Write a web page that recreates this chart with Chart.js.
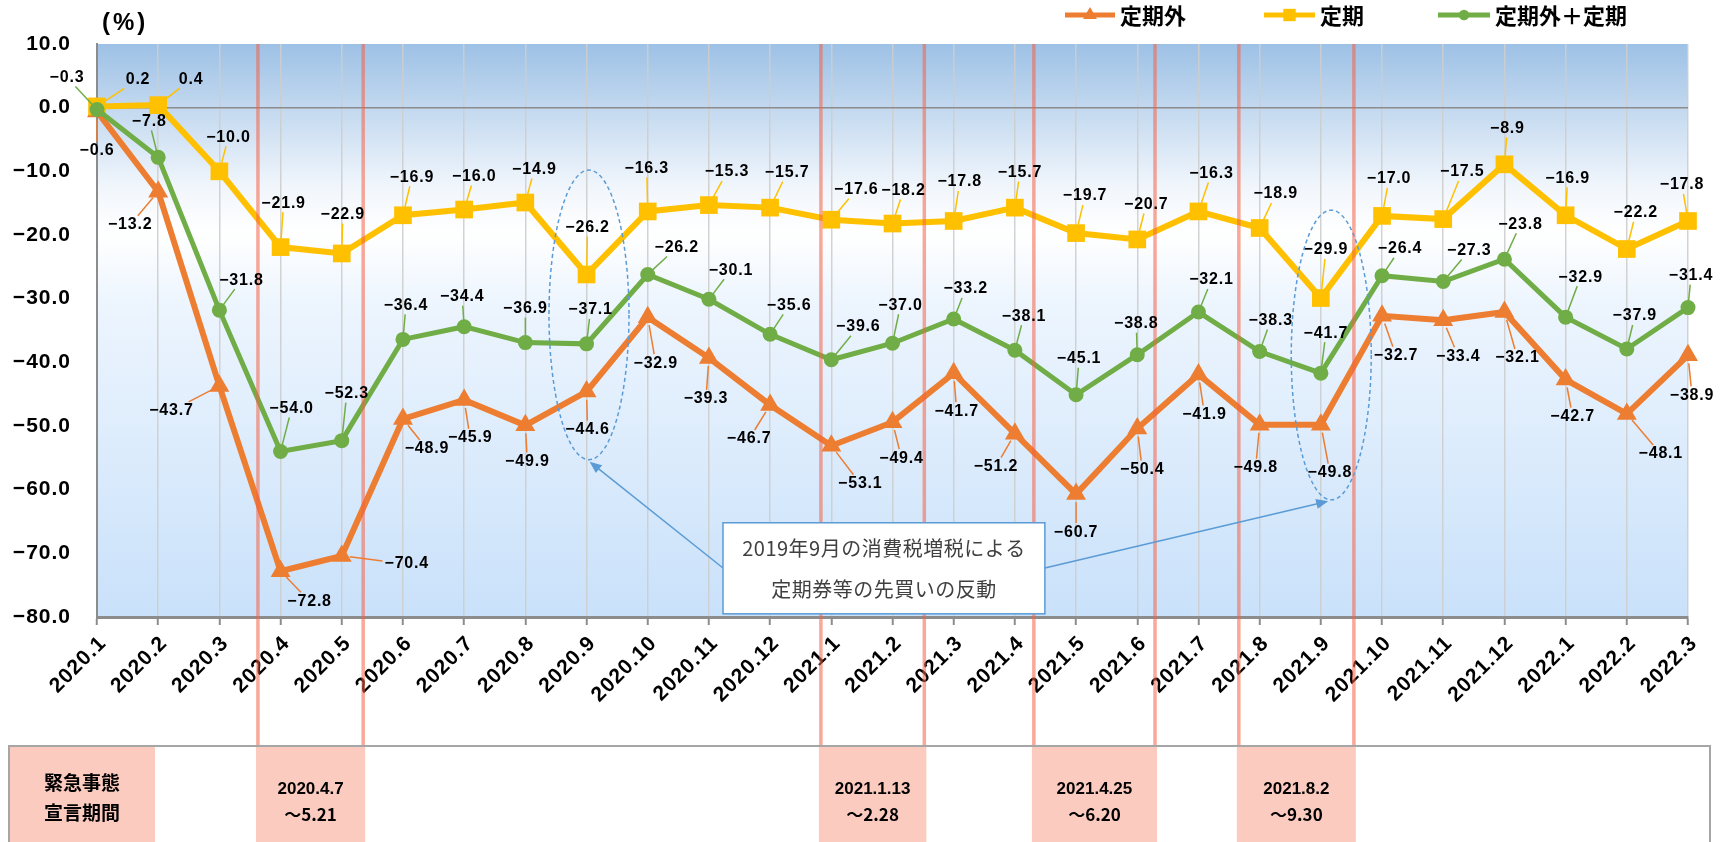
<!DOCTYPE html>
<html>
<head>
<meta charset="utf-8">
<script src="https://cdn.jsdelivr.net/npm/chart.js@4.4.1/dist/chart.umd.min.js"></script>
<style>
  html, body { margin: 0; padding: 0; background: #fff; }
  #wrap { position: relative; width: 1728px; height: 842px; }
</style>
</head>
<body>
<div id="wrap"><canvas id="chart"></canvas></div>
<script>
// months on the x axis
const months = [
  '2020.1', '2020.2', '2020.3', '2020.4', '2020.5', '2020.6', '2020.7', '2020.8', '2020.9',
  '2020.10', '2020.11', '2020.12', '2021.1', '2021.2', '2021.3', '2021.4', '2021.5', '2021.6',
  '2021.7', '2021.8', '2021.9', '2021.10', '2021.11', '2021.12', '2022.1', '2022.2', '2022.3'
];

// 定期外
const teikigai = [-0.6, -13.2, -43.7, -72.8, -70.4, -48.9, -45.9, -49.9, -44.6, -32.9, -39.3, -46.7, -53.1,
  -49.4, -41.7, -51.2, -60.7, -50.4, -41.9, -49.8, -49.8, -32.7, -33.4, -32.1, -42.7, -48.1, -38.9];
// 定期
const teiki = [0.2, 0.4, -10.0, -21.9, -22.9, -16.9, -16.0, -14.9, -26.2, -16.3, -15.3, -15.7, -17.6,
  -18.2, -17.8, -15.7, -19.7, -20.7, -16.3, -18.9, -29.9, -17.0, -17.5, -8.9, -16.9, -22.2, -17.8];
// 定期外＋定期
const total = [-0.3, -7.8, -31.8, -54.0, -52.3, -36.4, -34.4, -36.9, -37.1, -26.2, -30.1, -35.6, -39.6,
  -37.0, -33.2, -38.1, -45.1, -38.8, -32.1, -38.3, -41.7, -26.4, -27.3, -23.8, -32.9, -37.9, -31.4];

const yMin = -80;
const yMax = 10;
const yStep = 10;

// 緊急事態宣言期間 (position on the month axis, as drawn in the original)
const periodStart = [2.63, 11.83, 15.31, 18.66];
const periodEnd = [4.35, 13.52, 17.29, 20.54];
const periodText = [['2020.4.7', '～5.21'], ['2021.1.13', '～2.28'], ['2021.4.25', '～6.20'], ['2021.8.2', '～9.30']];

// label offsets (px) from each point
const offGai = [[0,39],[-28,33],[-48,25],[29,30],[65,8],[24,30],[6,38],[2,36],[1,38],[8,46],[-3,41],[-21,34],[29,38],
  [9,36],[3,38],[-19,33],[0,38],[5,41],[6,40],[-4,43],[9,48],[14,40],[15,36],[13,46],[7,37],[34,40],[4,40]];
const offTeiki = [[41,-27],[33,-26],[9,-34],[3,-44],[1,-39],[9,-38],[10,-33],[9,-33],[1,-47],[-1,-43],[18,-33],[17,-35],[25,-30],
  [11,-33],[6,-39],[5,-35],[9,-37],[9,-35],[13,-38],[16,-34],[5,-48],[7,-37],[19,-47],[3,-36],[2,-37],[9,-36],[-6,-36]];
const offTotal = [[-30,-32],[-9,-36],[22,-30],[11,-43],[5,-47],[3,-34],[-2,-30],[0,-34],[4,-34],[29,-27],[22,-29],[19,-29],[27,-33],
  [8,-38],[12,-30],[9,-34],[3,-36],[-1,-31],[13,-32],[11,-31],[5,-40],[18,-27],[26,-31],[16,-35],[15,-40],[8,-33],[3,-32]];
const labelOffsets = [offGai, offTeiki, offTotal];

const NUM_FONT = '"Liberation Sans", Arial, sans-serif';
const JP_FONT = '"Noto Sans CJK JP", sans-serif';
const TABLE_TOP = 746;

function fmt(v) {
  return v.toFixed(1).replace('-', '−');
}

const plotBg = {
  id: 'plotBg',
  beforeLayout(chart) {
    chart.ctx.letterSpacing = '1px';
  },
  beforeDraw(chart) {
    const { ctx, chartArea: a } = chart;
    ctx.letterSpacing = '1px';
    const g = ctx.createLinearGradient(0, a.top, 0, a.bottom);
    g.addColorStop(0, '#9dc1e5');
    g.addColorStop(0.11, '#c2d8ef');
    g.addColorStop(0.25, '#f1f6fc');
    g.addColorStop(0.33, '#ffffff');
    g.addColorStop(0.45, '#edf5fe');
    g.addColorStop(1, '#c9e1fa');
    ctx.save();
    ctx.fillStyle = g;
    ctx.fillRect(a.left, a.top, a.right - a.left, a.bottom - a.top);
    ctx.restore();
  }
};

const overlays = {
  id: 'overlays',
  afterDatasetsDraw(chart) {
    const ctx = chart.ctx;
    const xs = chart.scales.x;
    const top = chart.chartArea.top;

    // emergency lines
    ctx.save();
    ctx.strokeStyle = 'rgba(244,96,70,0.55)';
    ctx.lineWidth = 3.5;
    periodStart.concat(periodEnd).forEach(p => {
      const x = xs.getPixelForValue(p);
      ctx.beginPath();
      ctx.moveTo(x, top);
      ctx.lineTo(x, TABLE_TOP);
      ctx.stroke();
    });
    ctx.restore();

    // value labels with leader lines
    ctx.save();
    ctx.font = 'bold 16px ' + NUM_FONT;
    ctx.letterSpacing = '0.8px';
    ctx.textAlign = 'center';
    ctx.textBaseline = 'middle';
    chart.data.datasets.forEach((ds, di) => {
      const meta = chart.getDatasetMeta(di);
      const offs = labelOffsets[di];
      meta.data.forEach((pt, i) => {
        const text = fmt(ds.data[i]);
        const w = ctx.measureText(text).width;
        const lx = pt.x + offs[i][0];
        const ly = pt.y + offs[i][1];
        const ux = pt.x - lx;
        const uy = pt.y - ly;
        const hw = w / 2 + 2;
        const hh = 9;
        const t = Math.min(ux ? hw / Math.abs(ux) : 99, uy ? hh / Math.abs(uy) : 99);
        if (t < 1) {
          const ex = lx + ux * t;
          const ey = ly + uy * t;
          const len = Math.hypot(ux, uy);
          const r = ds.pointRadius * 0.7;
          const sx = pt.x - ux / len * r;
          const sy = pt.y - uy / len * r;
          if (Math.hypot(ex - sx, ey - sy) > 3) {
            ctx.strokeStyle = ds.borderColor;
            ctx.lineWidth = 1.5;
            ctx.beginPath();
            ctx.moveTo(sx, sy);
            ctx.lineTo(ex, ey);
            ctx.stroke();
          }
        }
        ctx.fillStyle = '#000';
        ctx.fillText(text, lx, ly);
      });
    });
    ctx.restore();
  },
  afterDraw(chart) {
    const ctx = chart.ctx;
    const xs = chart.scales.x;
    const ys = chart.scales.y;

    // legend
    ctx.save();
    ctx.letterSpacing = '0px';
    const legend = [[1065, 1115], [1264, 1315], [1438, 1490]];
    chart.data.datasets.forEach((ds, i) => {
      const [x1, x2] = legend[i];
      const y = 15;
      ctx.strokeStyle = ds.borderColor;
      ctx.fillStyle = ds.borderColor;
      ctx.lineWidth = 5;
      ctx.beginPath();
      ctx.moveTo(x1, y);
      ctx.lineTo(x2, y);
      ctx.stroke();
      Chart.helpers.drawPoint(ctx, { pointStyle: ds.pointStyle, radius: ds.pointRadius * 0.7, borderWidth: 0, rotation: 0 }, (x1 + x2) / 2, y);
      ctx.fillStyle = '#000';
      ctx.font = 'bold 22px ' + JP_FONT;
      ctx.textAlign = 'left';
      ctx.textBaseline = 'middle';
      ctx.fillText(ds.label, x2 + 5, y + 1);
    });

    // unit
    ctx.font = 'bold 24px ' + NUM_FONT;
    ctx.letterSpacing = '3px';
    ctx.textAlign = 'left';
    ctx.fillText('(%)', 102, 23);
    ctx.restore();

    // ellipses
    ctx.save();
    ctx.strokeStyle = '#5b9bd5';
    ctx.lineWidth = 1.5;
    ctx.setLineDash([4, 3]);
    [[8.04, -9.8, -55.3], [20.17, -16.1, -61.6]].forEach(([c, t, b]) => {
      const cx = xs.getPixelForValue(c);
      const y1 = ys.getPixelForValue(t);
      const y2 = ys.getPixelForValue(b);
      ctx.beginPath();
      ctx.ellipse(cx, (y1 + y2) / 2, 40, (y2 - y1) / 2, 0, 0, Math.PI * 2);
      ctx.stroke();
    });
    ctx.setLineDash([]);

    // arrows from the note to the ellipses
    const boxL = xs.getPixelForValue(10.23), boxR = xs.getPixelForValue(15.49);
    const boxT = ys.getPixelForValue(-65.2), boxB = ys.getPixelForValue(-79.5);
    const arrows = [
      [boxL, ys.getPixelForValue(-72.3), xs.getPixelForValue(8.05), ys.getPixelForValue(-55.6)],
      [boxR, ys.getPixelForValue(-72.3), xs.getPixelForValue(20.12), ys.getPixelForValue(-61.8)]
    ];
    ctx.fillStyle = '#5b9bd5';
    arrows.forEach(([x1, y1, x2, y2]) => {
      const ang = Math.atan2(y2 - y1, x2 - x1);
      ctx.beginPath();
      ctx.moveTo(x1, y1);
      ctx.lineTo(x2 - Math.cos(ang) * 10, y2 - Math.sin(ang) * 10);
      ctx.stroke();
      ctx.beginPath();
      ctx.moveTo(x2, y2);
      ctx.lineTo(x2 - Math.cos(ang - 0.4) * 13, y2 - Math.sin(ang - 0.4) * 13);
      ctx.lineTo(x2 - Math.cos(ang + 0.4) * 13, y2 - Math.sin(ang + 0.4) * 13);
      ctx.closePath();
      ctx.fill();
    });

    // note box
    ctx.fillStyle = '#fff';
    ctx.fillRect(boxL, boxT, boxR - boxL, boxB - boxT);
    ctx.strokeRect(boxL, boxT, boxR - boxL, boxB - boxT);
    ctx.fillStyle = '#404040';
    ctx.font = '20px ' + JP_FONT;
    ctx.letterSpacing = '0.5px';
    ctx.textAlign = 'center';
    ctx.textBaseline = 'middle';
    ctx.fillText('2019年9月の消費税増税による', (boxL + boxR) / 2, boxT + 26);
    ctx.fillText('定期券等の先買いの反動', (boxL + boxR) / 2, boxT + 67);
    ctx.restore();

    // period table
    ctx.save();
    ctx.letterSpacing = '0px';
    const H = chart.height;
    ctx.fillStyle = '#fccbbf';
    ctx.fillRect(9, TABLE_TOP, 146, H - TABLE_TOP);
    periodStart.forEach((s, i) => {
      const x1 = xs.getPixelForValue(s) - 2;
      const x2 = xs.getPixelForValue(periodEnd[i]) + 2;
      ctx.fillStyle = '#fccbbf';
      ctx.fillRect(x1, TABLE_TOP, x2 - x1, H - TABLE_TOP);
      ctx.fillStyle = '#000';
      ctx.font = 'bold 17px "Liberation Sans Narrow", ' + NUM_FONT;
      ctx.textAlign = 'center';
      ctx.textBaseline = 'middle';
      ctx.fillText(periodText[i][0], (x1 + x2) / 2, 789);
      ctx.font = 'bold 17px ' + JP_FONT;
      ctx.fillText(periodText[i][1], (x1 + x2) / 2, 815);
    });
    ctx.fillStyle = '#000';
    ctx.font = 'bold 19px ' + JP_FONT;
    ctx.textAlign = 'center';
    ctx.textBaseline = 'middle';
    ctx.fillText('緊急事態', 82, 783);
    ctx.fillText('宣言期間', 82, 813);
    ctx.strokeStyle = '#a6a6a6';
    ctx.lineWidth = 2;
    ctx.beginPath();
    ctx.moveTo(9, H);
    ctx.lineTo(9, TABLE_TOP);
    ctx.lineTo(1710, TABLE_TOP);
    ctx.lineTo(1710, H);
    ctx.stroke();
    ctx.restore();
  }
};

new Chart(document.getElementById('chart'), {
  type: 'line',
  data: {
    labels: months,
    datasets: [
      {
        label: '定期外', data: teikigai, borderColor: '#ed7d31', backgroundColor: '#ed7d31',
        borderWidth: 6, pointStyle: 'triangle', pointRadius: 11.5, pointBorderWidth: 0, order: 3, clip: false
      },
      {
        label: '定期', data: teiki, borderColor: '#ffc000', backgroundColor: '#ffc000',
        borderWidth: 6, pointStyle: 'rect', pointRadius: 12.5, pointBorderWidth: 0, order: 2, clip: false
      },
      {
        label: '定期外＋定期', data: total, borderColor: '#70ad47', backgroundColor: '#70ad47',
        borderWidth: 5, pointStyle: 'circle', pointRadius: 7.5, pointBorderWidth: 0, order: 1, clip: false
      }
    ]
  },
  options: {
    responsive: true,
    maintainAspectRatio: false,
    animation: false,
    layout: { padding: { top: 44, right: 40, left: 0, bottom: 0 } },
    plugins: {
      legend: { display: false },
      tooltip: { enabled: false }
    },
    scales: {
      x: {
        offset: false,
        afterFit(s) { s.height = 225; },
        grid: { color: 'rgba(205,205,205,0.9)', lineWidth: 1.5, tickLength: 8, tickColor: '#8c8c8c', tickWidth: 2 },
        border: { color: '#8c8c8c', width: 3 },
        ticks: {
          autoSkip: false, minRotation: 45, maxRotation: 45, padding: 6, labelOffset: 6,
          color: '#000', font: { family: NUM_FONT, size: 21, weight: 'bold' }
        }
      },
      y: {
        min: yMin,
        max: yMax,
        afterFit(s) { s.width = 97; },
        grid: {
          drawTicks: false,
          color: (c) => c.tick && c.tick.value === 0 ? '#8c8c8c' : 'rgba(0,0,0,0)',
          lineWidth: 1.5
        },
        border: { color: '#8c8c8c', width: 2 },
        ticks: {
          stepSize: yStep, padding: 26, color: '#000',
          font: { family: NUM_FONT, size: 21, weight: 'bold' },
          callback: (v) => fmt(v)
        }
      }
    }
  },
  plugins: [plotBg, overlays]
});
</script>
</body>
</html>
